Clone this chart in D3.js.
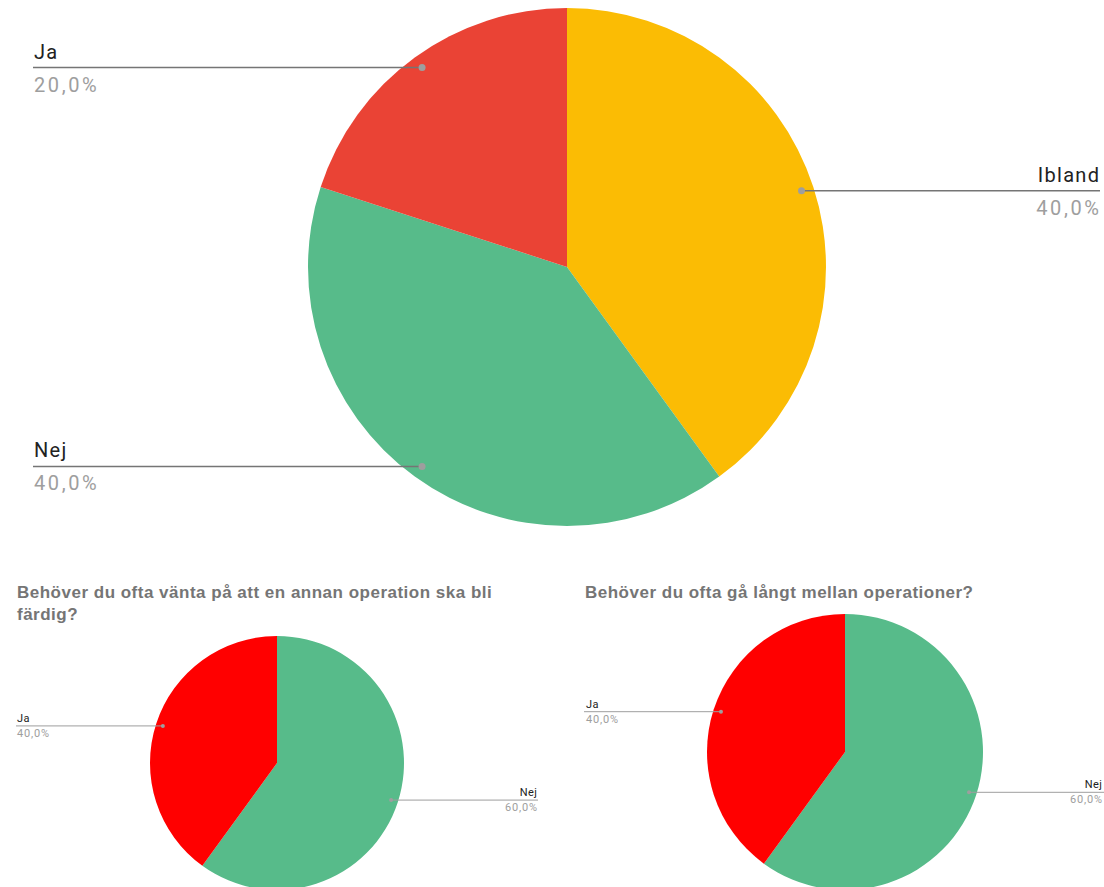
<!DOCTYPE html>
<html>
<head>
<meta charset="utf-8">
<script src="https://cdn.jsdelivr.net/npm/d3@7"></script>
<style>
  html, body { margin: 0; padding: 0; background: #fff; overflow: hidden; }
  svg { display: block; }
</style>
</head>
<body>
<svg id="chart" width="1104" height="887"></svg>
<script>
// ---- Data ----
const mainCategories = ["Ibland", "Nej", "Ja"];
const mainValues = [40, 40, 20];
const mainColors = ["#FBBC04", "#57BB8A", "#EA4335"];

const waitTitle = ["Behöver du ofta vänta på att en annan operation ska bli", "färdig?"];
const waitCategories = ["Nej", "Ja"];
const waitValues = [60, 40];

const walkTitle = ["Behöver du ofta gå långt mellan operationer?"];
const walkCategories = ["Nej", "Ja"];
const walkValues = [60, 40];

const smallColors = ["#57BB8A", "#FF0000"];

// ---- Setup ----
const svg = d3.select("#chart");
const locale = d3.formatLocale({ decimal: ",", thousands: " ", grouping: [3], currency: ["", " kr"] });
const pct = locale.format(".1%");

function drawPie(cfg) {
  const g = svg.append("g");
  const total = d3.sum(cfg.values);
  const data = cfg.categories.map((c, i) => ({ cat: c, value: cfg.values[i], color: cfg.colors[i] }));
  const pie = d3.pie().sort(null).value(d => d.value).startAngle(0).endAngle(2 * Math.PI);
  const arcs = pie(data);
  const arc = d3.arc().innerRadius(0).outerRadius(cfg.r);
  const pg = g.append("g").attr("transform", `translate(${cfg.cx},${cfg.cy})`);
  pg.selectAll("path").data(arcs).join("path")
    .attr("d", arc)
    .attr("fill", d => d.data.color);

  // Leader lines and labels
  const dotR = cfg.r * cfg.dotFrac;
  arcs.forEach(a => {
    const mid = (a.startAngle + a.endAngle) / 2;
    const px = cfg.cx + dotR * Math.sin(mid);
    const py = cfg.cy - dotR * Math.cos(mid);
    const right = Math.sin(mid) > 0;
    const ex = right ? cfg.rightX : cfg.leftX;
    g.append("line")
      .attr("x1", px).attr("y1", py).attr("x2", ex).attr("y2", py)
      .attr("stroke", cfg.lineColor).attr("stroke-width", cfg.lineWidth);
    g.append("circle")
      .attr("cx", px).attr("cy", py).attr("r", cfg.dotSize)
      .attr("fill", "#9e9e9e");
    const anchor = right ? "end" : "start";
    const tx = right ? ex - cfg.textPad : ex + cfg.textPad;
    g.append("text")
      .attr("x", right ? tx + cfg.labelSpacing : tx).attr("y", py - cfg.above)
      .attr("text-anchor", anchor)
      .attr("font-family", "Roboto, 'Noto Sans', sans-serif")
      .attr("font-size", cfg.fontSize)
      .attr("letter-spacing", cfg.labelSpacing)
      .attr("fill", "#222222")
      .text(a.data.cat);
    g.append("text")
      .attr("x", right ? tx + cfg.pctSpacing : tx).attr("y", py + cfg.below)
      .attr("text-anchor", anchor)
      .attr("font-family", "Roboto, 'Noto Sans', sans-serif")
      .attr("font-size", cfg.fontSize)
      .attr("letter-spacing", cfg.pctSpacing)
      .attr("fill", "#9e9e9e")
      .text(pct(a.data.value / total));
  });
}

drawPie({
  categories: mainCategories, values: mainValues, colors: mainColors,
  cx: 567, cy: 267, r: 259, dotFrac: 0.952,
  leftX: 33, rightX: 1100, textPad: 1,
  lineColor: "#757575", lineWidth: 1.6, dotSize: 3.5,
  fontSize: 20, above: 9, below: 24, labelSpacing: 1.3, pctSpacing: 2.6
});

drawPie({
  categories: waitCategories, values: waitValues, colors: smallColors,
  cx: 277, cy: 763, r: 127, dotFrac: 0.945,
  leftX: 16, rightX: 538, textPad: 1,
  lineColor: "#9e9e9e", lineWidth: 1, dotSize: 2,
  fontSize: 11, above: 4, below: 11, labelSpacing: 0.5, pctSpacing: 0.8
});

drawPie({
  categories: walkCategories, values: walkValues, colors: smallColors,
  cx: 845, cy: 752, r: 138, dotFrac: 0.945,
  leftX: 584, rightX: 1104, textPad: 2,
  lineColor: "#9e9e9e", lineWidth: 1, dotSize: 2,
  fontSize: 11, above: 4, below: 11, labelSpacing: 0.5, pctSpacing: 0.8
});

// Titles
[[waitTitle, 17, 598], [walkTitle, 585, 598]].forEach(([lines, x, y]) => {
  lines.forEach((line, i) => {
    svg.append("text")
      .attr("x", x).attr("y", y + i * 22)
      .attr("font-family", "'Liberation Sans', Arial, sans-serif")
      .attr("font-weight", "bold")
      .attr("font-size", 17)
      .attr("letter-spacing", 0.5)
      .attr("fill", "#757575")
      .text(line);
  });
});
</script>
</body>
</html>
